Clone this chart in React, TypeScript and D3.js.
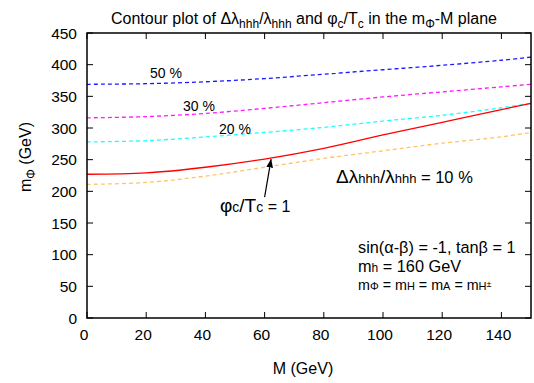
import React from "react";
import * as d3 from "d3";

const M_VALUES = [0, 20, 40, 60, 80, 100, 120, 140, 150];
const C50 = [369, 370, 373, 378, 385, 392, 399, 407, 412];
const C30 = [316, 318, 323, 331, 340, 349, 357, 365, 369];
const C20 = [278, 280, 286, 293, 301, 311, 320, 332, 339];
const PHI1 = [227, 229, 238, 251, 268, 289, 309, 329, 339];
const C10 = [211, 214, 224, 238, 252, 264, 276, 286, 293];
const X_TICKS = [0, 20, 40, 60, 80, 100, 120, 140];
const Y_TICKS = [0, 50, 100, 150, 200, 250, 300, 350, 400, 450];

const W = 534, H = 383;
const L = 87, R = 531, T = 33, B = 318;
const FONT = "'Liberation Sans', Arial, Helvetica, sans-serif";

export default function App() {
  const x = d3.scaleLinear().domain([0, 150]).range([L, R]);
  const y = d3.scaleLinear().domain([0, 450]).range([B, T]);
  const line = d3
    .line<[number, number]>()
    .x((d) => x(d[0]))
    .y((d) => y(d[1]))
    .curve(d3.curveCatmullRom.alpha(0.5));
  const pts = (vals: number[]) => M_VALUES.map((m, i) => [m, vals[i]] as [number, number]);

  const curves = [
    { v: C50, c: "#1a1aff", dash: "4,3" },
    { v: C30, c: "#ff1aff", dash: "4,3" },
    { v: C20, c: "#1affff", dash: "4,3" },
    { v: C10, c: "#ffc466", dash: "4,3" },
    { v: PHI1, c: "#ff0000", dash: undefined },
  ];

  const sub = { fontSize: "0.75em" } as const;

  return (
    <svg width={W} height={H} style={{ position: "absolute", left: 0, top: 0, background: "#fff" }} fontFamily={FONT}>
      <rect x={0} y={0} width={W} height={H} fill="#fff" />
      <defs>
        <clipPath id="pc">
          <rect x={L} y={T} width={R - L} height={B - T} />
        </clipPath>
        <marker id="ah" viewBox="0 0 10 10" refX="10" refY="5" markerWidth="7" markerHeight="7" orient="auto">
          <path d="M0,1 L10,5 L0,9 Z" fill="#000" />
        </marker>
      </defs>

      {/* title */}
      <text x={304} y={24} fontSize={16} textAnchor="middle" fill="#000">
        Contour plot of Δλ<tspan dy={4} style={sub}>hhh</tspan>
        <tspan dy={-4}>/λ</tspan><tspan dy={4} style={sub}>hhh</tspan>
        <tspan dy={-4}> and φ</tspan><tspan dy={4} style={sub}>c</tspan>
        <tspan dy={-4}>/T</tspan><tspan dy={4} style={sub}>c</tspan>
        <tspan dy={-4}> in the m</tspan><tspan dy={4} style={sub}>Φ</tspan>
        <tspan dy={-4}>-M plane</tspan>
      </text>

      {/* curves */}
      <g clipPath="url(#pc)">
        {curves.map((cv, i) => (
          <path key={i} d={line(pts(cv.v)) || ""} fill="none" stroke={cv.c} strokeWidth={1.3} strokeDasharray={cv.dash} />
        ))}
      </g>

      {/* frame */}
      <rect x={L} y={T} width={R - L} height={B - T} fill="none" stroke="#000" strokeWidth={1.5} />

      {/* ticks */}
      {X_TICKS.map((t) => (
        <g key={"x" + t}>
          <line x1={x(t)} x2={x(t)} y1={B} y2={B - 6} stroke="#000" strokeWidth={1} />
          <line x1={x(t)} x2={x(t)} y1={T} y2={T + 6} stroke="#000" strokeWidth={1} />
          <text x={x(t) - 3} y={B + 22} fontSize={15.5} textAnchor="middle" fill="#000">{t}</text>
        </g>
      ))}
      {Y_TICKS.map((t) => (
        <g key={"y" + t}>
          <line x1={L} x2={L + 6} y1={y(t)} y2={y(t)} stroke="#000" strokeWidth={1} />
          <line x1={R} x2={R - 6} y1={y(t)} y2={y(t)} stroke="#000" strokeWidth={1} />
          <text x={77} y={y(t) + 5.5} fontSize={15.5} textAnchor="end" fill="#000">{t}</text>
        </g>
      ))}

      {/* axis titles */}
      <text x={303} y={374} fontSize={16} textAnchor="middle" fill="#000">M (GeV)</text>
      <text transform="translate(31,157) rotate(-90)" fontSize={16} textAnchor="middle" fill="#000">
        m<tspan dy={4} style={sub}>Φ</tspan><tspan dy={-4}> (GeV)</tspan>
      </text>

      {/* contour labels */}
      <text x={150} y={78} fontSize={14} fill="#000">50 %</text>
      <text x={183} y={111} fontSize={14} fill="#000">30 %</text>
      <text x={219} y={134} fontSize={14} fill="#000">20 %</text>

      {/* arrow */}
      <line x1={x(60)} y1={y(191)} x2={x(62.2)} y2={y(251)} stroke="#000" strokeWidth={1.2} markerEnd="url(#ah)" />
      <text x={220} y={212} fontSize={19} fill="#000">
        φ<tspan fontSize={14}>c</tspan>/T<tspan fontSize={14}>c</tspan><tspan fontSize={16}> = 1</tspan>
      </text>

      <text x={336} y={183} fontSize={19} fill="#000">
        Δλ<tspan fontSize={13}>hhh</tspan>/λ<tspan fontSize={13}>hhh</tspan><tspan fontSize={16.5}> = 10 %</tspan>
      </text>

      {/* parameters */}
      <text x={358} y={253} fontSize={16.3} fill="#000">sin(α-β) = -1, tanβ = 1</text>
      <text x={358} y={272} fontSize={16.3} fill="#000">
        m<tspan fontSize={12}>h</tspan> = 160 GeV
      </text>
      <text x={358} y={290} fontSize={14.3} fill="#000">
        m<tspan fontSize={11}>Φ</tspan> = m<tspan fontSize={11}>H</tspan> = m<tspan fontSize={11}>A</tspan> = m<tspan fontSize={11}>H</tspan><tspan fontSize={9} dy={-3}>±</tspan>
      </text>
    </svg>
  );
}
